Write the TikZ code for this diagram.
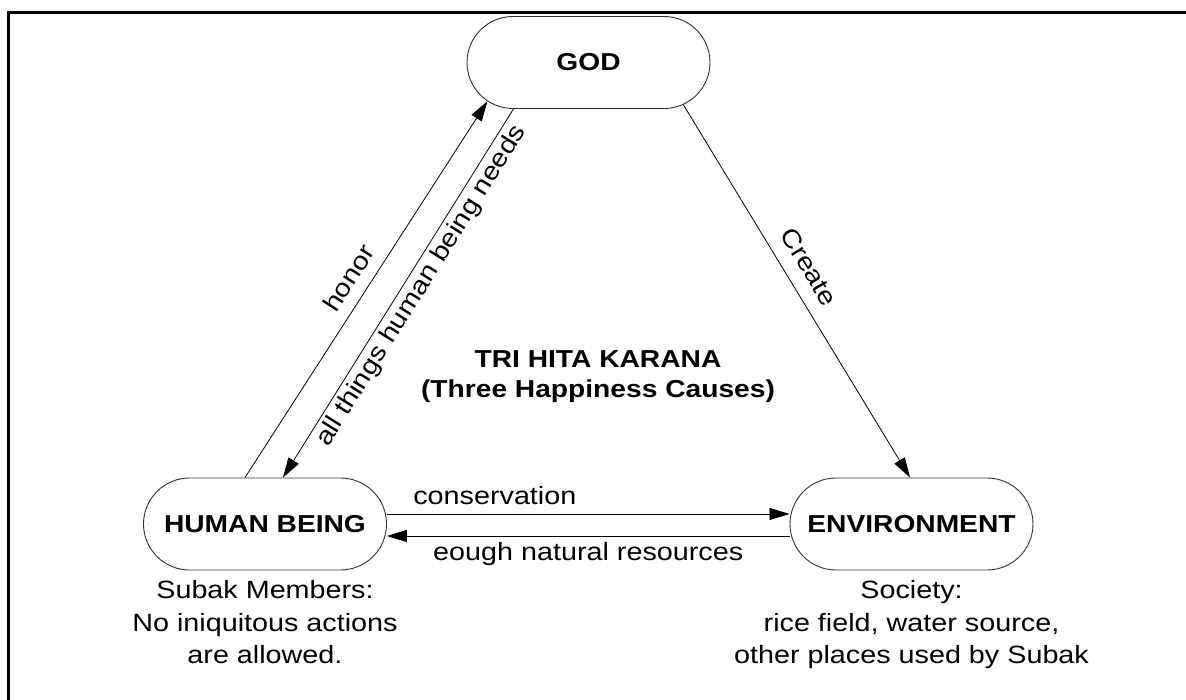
\documentclass[tikz,border=0pt]{standalone}
\usepackage{fontspec}
\setmainfont[FakeStretch=1.15]{Liberation Sans}
\usetikzlibrary{shapes.misc,arrows.meta}
\tikzset{
  pillbox/.style={rounded rectangle, draw=black!80, line width=0.9pt, fill=white,
    minimum width=243pt, minimum height=92pt, inner sep=0pt,
    font=\fontsize{24.5}{30}\selectfont\bfseries},
  link/.style={-{Triangle[length=20pt,width=12pt]}, line width=0.8pt},
  linklabel/.style={font=\fontsize{25}{30}\selectfont, inner sep=3pt},
  notetext/.style={font=\fontsize{25}{32.5}\selectfont, align=center}
}
\begin{document}
\begin{tikzpicture}[x=1pt,y=-1pt]
\useasboundingbox (0,0) rectangle (1186,700);
% frame
\draw[line width=3pt] (8,700) -- (8,13) -- (1186,13);
% the three parts
\node[pillbox] (god) at (588.5,62.5) {GOD};
\node[pillbox] (human) at (265,524) {HUMAN BEING};
\node[pillbox] (env) at (911.5,524) {ENVIRONMENT};
% centre title
\node[font=\fontsize{24.5}{30}\selectfont\bfseries, align=center] (title) at (598,377)
  {TRI HITA KARANA\\(Three Happiness Causes)};
% notes under the parts
\node[notetext] (humannote) at (265,622.5) {Subak Members:\\No iniquitous actions\\are allowed.};
\node[notetext] (envnote) at (911.5,625) {Society:\\rice field, water source,\\other places used by Subak};
% relations
\draw[link] ([xshift=-20pt]human.north) -- node[linklabel, sloped, above=8.5pt, pos=0.5] (honor) {honor} (god.201);
\draw[link] ([xshift=-75pt]god.south) -- node[linklabel, sloped, below=1pt, pos=0.457] (needs) {all things human being needs} ([xshift=18pt]human.north);
\draw[link] (god.-24) -- node[linklabel, sloped, above=11pt, pos=0.467] (create) {Create} ([xshift=-1.5pt]env.north);
\draw[link] ([yshift=10pt]human.east) -- node[linklabel, above=6pt, pos=0.268] (conserve) {conservation} ([yshift=10pt]env.west);
\draw[link] ([yshift=-12pt]env.west) -- node[linklabel, below=3pt, pos=0.5] (resources) {eough natural resources} ([yshift=-12pt]human.east);
\end{tikzpicture}
\end{document}
